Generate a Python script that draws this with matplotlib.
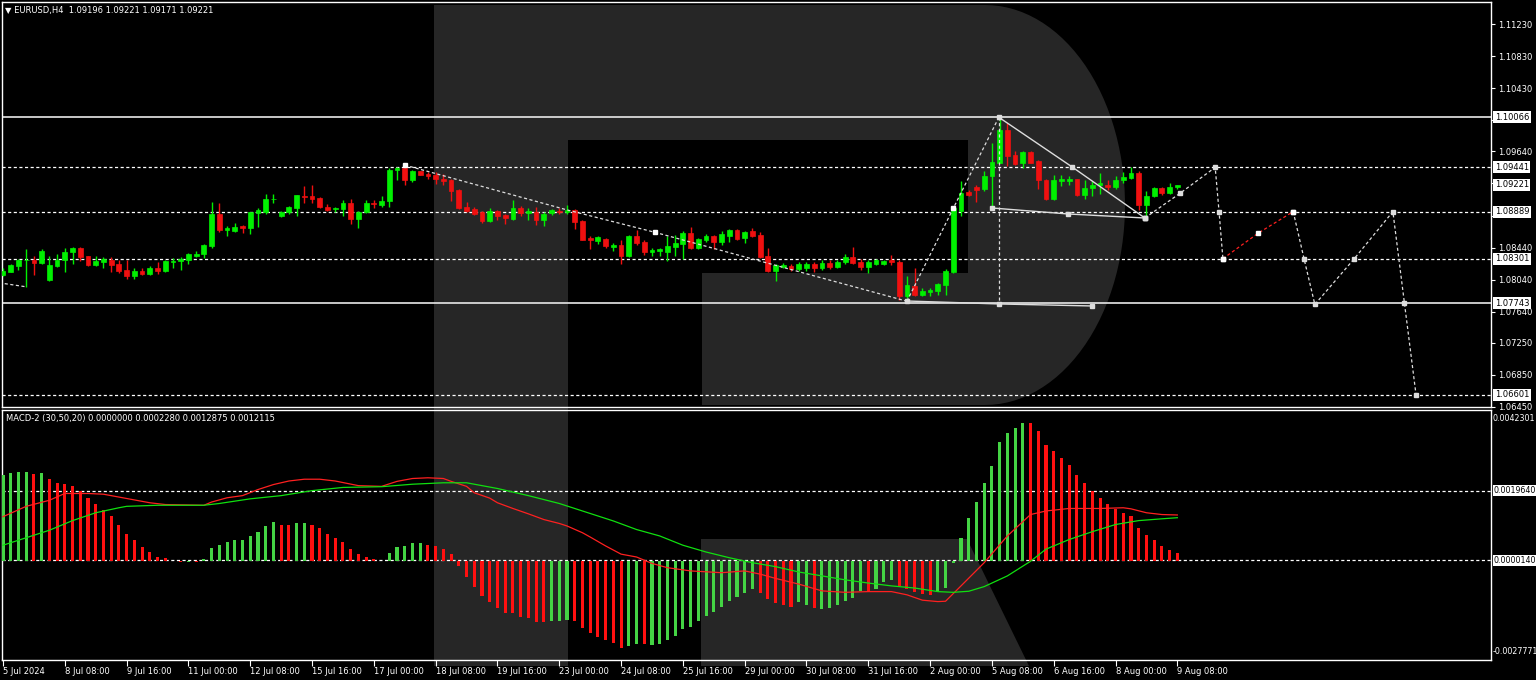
import matplotlib.pyplot as plt
from matplotlib.patches import Polygon, Rectangle
import numpy as np

# EURUSD H4 bars, 5 Jul 2024 00:00 .. 9 Aug 2024 08:00
opens = [1.0810, 1.0814, 1.0821, 1.0828, 1.0829, 1.0825, 1.0803, 1.0821, 1.0829, 1.0838,
         1.0844, 1.0833, 1.0822, 1.0826, 1.0829, 1.0824, 1.0816, 1.0809, 1.0815, 1.0811,
         1.0819, 1.0815, 1.0826, 1.0827, 1.0829, 1.0834, 1.0836, 1.0846, 1.0886, 1.0866,
         1.0865, 1.0871, 1.0869, 1.0887, 1.0889, 1.0904, 1.0883, 1.0888, 1.0893, 1.0908,
         1.0908, 1.0906, 1.0895, 1.0892, 1.0892, 1.0900, 1.0880, 1.0889, 1.0900, 1.0897,
         1.0902, 1.0941, 1.0943, 1.0928, 1.0939, 1.0936, 1.0934, 1.0930, 1.0928, 1.0916,
         1.0895, 1.0892, 1.0888, 1.0877, 1.0890, 1.0885, 1.0880, 1.0894, 1.0887, 1.0889,
         1.0878, 1.0887, 1.0890, 1.0889, 1.0891, 1.0877, 1.0856, 1.0852, 1.0855, 1.0845,
         1.0847, 1.0834, 1.0858, 1.0851, 1.0839, 1.0840, 1.0839, 1.0845, 1.0849, 1.0862,
         1.0844, 1.0853, 1.0858, 1.0851, 1.0859, 1.0866, 1.0856, 1.0865, 1.0860, 1.0833,
         1.0815, 1.0820, 1.0821, 1.0817, 1.0818, 1.0823, 1.0818, 1.0825, 1.0820, 1.0826,
         1.0832, 1.0826, 1.0820, 1.0824, 1.0824, 1.0828, 1.0826, 1.0783, 1.0796, 1.0785,
         1.0788, 1.0790, 1.0797, 1.0814, 1.0890, 1.0913, 1.0919, 1.0917, 1.0933, 1.0950,
         1.0991, 1.0960, 1.0949, 1.0963, 1.0952, 1.0928, 1.0904, 1.0927, 1.0927, 1.0929,
         1.0910, 1.0918, 1.0922, 1.0922, 1.0919, 1.0928, 1.0931, 1.0937, 1.0897, 1.0908,
         1.0918, 1.0912, 1.09196]
highs = [1.0818, 1.0824, 1.0830, 1.0842, 1.0834, 1.0842, 1.0833, 1.0836, 1.0844, 1.0845,
         1.0845, 1.0834, 1.0834, 1.0832, 1.0832, 1.0828, 1.0829, 1.0818, 1.0818, 1.0821,
         1.0826, 1.0828, 1.0831, 1.0832, 1.0837, 1.0840, 1.0848, 1.0901, 1.0899, 1.0871,
         1.0875, 1.0872, 1.0889, 1.0893, 1.0911, 1.0911, 1.0890, 1.0896, 1.0910, 1.0921,
         1.0922, 1.0907, 1.0898, 1.0895, 1.0903, 1.0905, 1.0890, 1.0903, 1.0903, 1.0908,
         1.0943, 1.0944, 1.0949, 1.0941, 1.0940, 1.0938, 1.0938, 1.0936, 1.0930, 1.0917,
         1.0901, 1.0895, 1.0890, 1.0894, 1.0891, 1.0886, 1.0903, 1.0896, 1.0893, 1.0895,
         1.0888, 1.0892, 1.0893, 1.0897, 1.0892, 1.0878, 1.0858, 1.0858, 1.0856, 1.0850,
         1.0853, 1.0860, 1.0866, 1.0854, 1.0843, 1.0844, 1.0858, 1.0860, 1.0865, 1.0870,
         1.0856, 1.0861, 1.0860, 1.0865, 1.0867, 1.0867, 1.0865, 1.0869, 1.0863, 1.0843,
         1.0824, 1.0825, 1.0824, 1.0826, 1.0826, 1.0826, 1.0828, 1.0829, 1.0829, 1.0836,
         1.0845, 1.0830, 1.0828, 1.0830, 1.0829, 1.0835, 1.0828, 1.0809, 1.0818, 1.0794,
         1.0793, 1.0800, 1.0817, 1.0895, 1.0927, 1.0916, 1.0922, 1.0940, 1.0974, 1.1007,
         1.0999, 1.0964, 1.0964, 1.0964, 1.0953, 1.0930, 1.0935, 1.0935, 1.0933, 1.0930,
         1.0928, 1.0927, 1.0937, 1.0928, 1.0933, 1.0938, 1.0944, 1.0940, 1.0915, 1.0919,
         1.0919, 1.0924, 1.09221]
lows = [1.0809, 1.0813, 1.0816, 1.0795, 1.0810, 1.0824, 1.0802, 1.0820, 1.0814, 1.0824,
        1.0827, 1.0821, 1.0821, 1.0819, 1.0814, 1.0812, 1.0805, 1.0805, 1.0810, 1.0810,
        1.0811, 1.0813, 1.0819, 1.0816, 1.0824, 1.0832, 1.0831, 1.0843, 1.0863, 1.0859,
        1.0863, 1.0862, 1.0861, 1.0870, 1.0886, 1.0899, 1.0882, 1.0886, 1.0883, 1.0900,
        1.0899, 1.0893, 1.0890, 1.0888, 1.0883, 1.0874, 1.0869, 1.0887, 1.0894, 1.0895,
        1.0895, 1.0928, 1.0922, 1.0926, 1.0935, 1.0930, 1.0923, 1.0922, 1.0902, 1.0892,
        1.0889, 1.0885, 1.0875, 1.0876, 1.0878, 1.0873, 1.0878, 1.0884, 1.0878, 1.0872,
        1.0871, 1.0885, 1.0886, 1.0886, 1.0867, 1.0853, 1.0842, 1.0849, 1.0844, 1.0840,
        1.0824, 1.0832, 1.0847, 1.0835, 1.0834, 1.0834, 1.0827, 1.0834, 1.0830, 1.0842,
        1.0842, 1.0851, 1.0842, 1.0847, 1.0851, 1.0854, 1.0850, 1.0857, 1.0831, 1.0814,
        1.0802, 1.0818, 1.0815, 1.0815, 1.0815, 1.0814, 1.0816, 1.0817, 1.0818, 1.0823,
        1.0823, 1.0816, 1.0812, 1.0822, 1.0822, 1.0822, 1.0779, 1.0781, 1.0783, 1.0783,
        1.0783, 1.0785, 1.0785, 1.0812, 1.0883, 1.0908, 1.0901, 1.0914, 1.0895, 1.0949,
        1.0946, 1.0947, 1.0943, 1.0949, 1.0917, 1.0903, 1.0903, 1.0921, 1.0922, 1.0908,
        1.0904, 1.0908, 1.0911, 1.0916, 1.0917, 1.0925, 1.0929, 1.0891, 1.0883, 1.0907,
        1.0910, 1.0911, 1.09171]
closes = [1.0815, 1.0822, 1.0828, 1.0829, 1.0825, 1.0840, 1.0822, 1.0829, 1.0839, 1.0844,
          1.0832, 1.0822, 1.0827, 1.0830, 1.0822, 1.0815, 1.0809, 1.0815, 1.0811, 1.0819,
          1.0815, 1.0827, 1.0827, 1.0830, 1.0836, 1.0836, 1.0847, 1.0886, 1.0866, 1.0868,
          1.0870, 1.0869, 1.0888, 1.0891, 1.0905, 1.0905, 1.0889, 1.0895, 1.0909, 1.0907,
          1.0905, 1.0895, 1.0891, 1.0893, 1.0900, 1.0880, 1.0889, 1.0899, 1.0898, 1.0902,
          1.0941, 1.0943, 1.0928, 1.0940, 1.0935, 1.0933, 1.0929, 1.0927, 1.0915, 1.0894,
          1.0890, 1.0886, 1.0877, 1.0890, 1.0884, 1.0881, 1.0894, 1.0887, 1.0890, 1.0878,
          1.0886, 1.0891, 1.0889, 1.0891, 1.0876, 1.0854, 1.0853, 1.0857, 1.0846, 1.0847,
          1.0834, 1.0858, 1.0850, 1.0838, 1.0841, 1.0842, 1.0846, 1.0850, 1.0862, 1.0844,
          1.0855, 1.0859, 1.0851, 1.0861, 1.0866, 1.0855, 1.0863, 1.0858, 1.0832, 1.0815,
          1.0822, 1.0822, 1.0817, 1.0824, 1.0823, 1.0818, 1.0825, 1.0820, 1.0826, 1.0832,
          1.0825, 1.0820, 1.0826, 1.0828, 1.0827, 1.0826, 1.0783, 1.0797, 1.0785, 1.0790,
          1.0791, 1.0799, 1.0815, 1.0893, 1.0912, 1.0910, 1.0916, 1.0933, 1.0951, 1.0991,
          1.0958, 1.0948, 1.0963, 1.0950, 1.0928, 1.0904, 1.0928, 1.0930, 1.0929, 1.0910,
          1.0918, 1.0922, 1.0924, 1.0920, 1.0928, 1.0932, 1.0937, 1.0897, 1.0908, 1.0918,
          1.0912, 1.0919, 1.09221]

# MACD-2 (30,50,20) histogram and its colour state (U = rising, D = falling)
macd_hist = [0.00240, 0.00246, 0.00248, 0.00248, 0.00244, 0.00246, 0.00230, 0.00219, 0.00216, 0.00210,
             0.00195, 0.00176, 0.00159, 0.00144, 0.00125, 0.00100, 0.00076, 0.00058, 0.00039, 0.00025,
             0.00012, 0.00007, 0.00001, -0.00002, -0.00002, -0.00002, 0.00006, 0.00035, 0.00044, 0.00052,
             0.00058, 0.00060, 0.00071, 0.00081, 0.00098, 0.00108, 0.00102, 0.00100, 0.00105, 0.00105,
             0.00102, 0.00092, 0.00076, 0.00063, 0.00054, 0.00033, 0.00019, 0.00011, 0.00006, 0.00001,
             0.00021, 0.00039, 0.00041, 0.00049, 0.00049, 0.00046, 0.00043, 0.00033, 0.00018, -0.00015,
             -0.00045, -0.00072, -0.00099, -0.00114, -0.00132, -0.00146, -0.00147, -0.00157, -0.00161, -0.00170,
             -0.00172, -0.00169, -0.00167, -0.00166, -0.00168, -0.00187,
             -0.00202, -0.00212, -0.00221, -0.00231, -0.00243, -0.00239, -0.00233, -0.00233, -0.00235, -0.00233,
             -0.00221, -0.00211, -0.00191, -0.00184, -0.00169, -0.00153, -0.00144, -0.00128, -0.00113, -0.00100,
             -0.00089, -0.00079, -0.00089, -0.00106, -0.00117, -0.00124, -0.00128, -0.00116, -0.00123, -0.00133,
             -0.00135, -0.00131, -0.00123, -0.00113, -0.00103, -0.00084, -0.00086, -0.00079, -0.00060, -0.00053,
             -0.00070, -0.00079, -0.00088, -0.00093, -0.00095, -0.00088, -0.00076, -0.00007, 0.00065, 0.00119,
             0.00166, 0.00217, 0.00267, 0.00332, 0.00358, 0.00372, 0.00386, 0.00386, 0.00365, 0.00326,
             0.00308, 0.00288, 0.00270, 0.00240, 0.00217, 0.00195, 0.00177, 0.00160, 0.00146, 0.00135,
             0.00127, 0.00093, 0.00072, 0.00058, 0.00042, 0.00030, 0.00022]
hist_dir = ("UUUUDU" "DDDDDDDDDDDDDDDDDD" "UD" "UUUUUUUUUU" "DDUUD" "DDDDDDDDD" "UUUUU"
            "DDDDDDDDDDDDDDDD" "UUU" "DD"
            "DDDDD" "UU" "D" "UUUUUUUUUUUUUU" "DDDDD" "UU" "D" "UUUUU" "U" "D" "UUU" "DDDDD"
            "UUU" "UUUUUUUUU" "DDDDDDDDDDDDDDDDDDDD")

red_x = [0, 3, 6, 8, 11, 13, 16, 19, 21, 26, 27, 29, 31, 33, 35, 37, 39, 41, 43, 46, 49, 51, 53, 55, 57,
         58, 60, 61, 63, 64, 66, 68, 70, 72, 73, 75, 76, 78, 80, 82, 84, 86, 89, 93, 96, 98, 100, 103, 106,
         109, 112, 115, 117, 119, 121, 122, 124, 127, 130, 133, 135, 138, 142, 145, 146, 148, 150, 152]
red_y = [0.00124, 0.00153, 0.00170, 0.00189, 0.00189, 0.00187, 0.00175, 0.00163, 0.00158, 0.00156, 0.00165,
         0.00177, 0.00183, 0.00200, 0.00214, 0.00224, 0.00229, 0.00229, 0.00224, 0.00211, 0.00209, 0.00223,
         0.00231, 0.00233, 0.00231, 0.00223, 0.00209, 0.00191, 0.00176, 0.00163, 0.00147, 0.00132, 0.00116,
         0.00105, 0.00098, 0.00079, 0.00067, 0.00042, 0.00019, 0.00011, -0.00007, -0.00019, -0.00028,
         -0.00033, -0.00028, -0.00037, -0.00049, -0.00065, -0.00084, -0.00088, -0.00086, -0.00086, -0.00095,
         -0.00110, -0.00114, -0.00113, -0.00070, -0.00005, 0.00070, 0.00130, 0.00140, 0.00147, 0.00147,
         0.00149, 0.00146, 0.00135, 0.00130, 0.0012875]
green_x = [0, 3, 6, 9, 12, 15, 16, 20, 26, 28, 32, 36, 40, 44, 49, 53, 57, 60, 64, 68, 72, 76, 79, 82, 85,
           88, 91, 94, 97, 100, 103, 106, 109, 112, 115, 118, 121, 123, 125, 127, 130, 133, 135, 138, 141,
           144, 147, 150, 152]
green_y = [0.00044, 0.00065, 0.00086, 0.00113, 0.00135, 0.00149, 0.00153, 0.00156, 0.00156, 0.00161, 0.00174,
           0.00183, 0.00197, 0.00206, 0.00208, 0.00215, 0.00219, 0.00219, 0.00203, 0.00183, 0.00161, 0.00133,
           0.00112, 0.00088, 0.00070, 0.00044, 0.00025, 0.00009, -0.00005, -0.00016, -0.00031, -0.00042,
           -0.00053, -0.00062, -0.00070, -0.00076, -0.00086, -0.00088, -0.00085, -0.00072, -0.00042, -0.00001,
           0.00033, 0.00060, 0.00082, 0.00102, 0.00113, 0.00118, 0.0012115]

# horizontal levels
solid_levels = [1.10066, 1.07743]
dashed_levels = [1.09441, 1.08889, 1.08301, 1.06601]
last_price = 1.09221
price_ticks = [1.11230, 1.10830, 1.10430, 1.10030, 1.09640, 1.09240, 1.08840, 1.08440, 1.08040,
               1.07640, 1.07250, 1.06850, 1.06450]
hidden_ticks = [1.10030, 1.09240, 1.08840]   # covered by the level boxes
macd_min, macd_max = -0.0027771, 0.0042301
macd_levels = [0.0019640, 0.0000140]

# wave markup (bar index, price)
trend_x, trend_y = [52, 73, 84.4, 117], [1.0947, 1.0891, 1.0863, 1.0777]
stub_x, stub_y = [-0.5, 3.0], [1.0800, 1.0795]
wave_x, wave_y = [117, 123, 128.9], [1.0777, 1.0893, 1.10066]
drop_x, drop_y = [128.9, 128.9], [1.10066, 1.07736]
tri_hi_x, tri_hi_y = [128.9, 138.4, 147.8], [1.10066, 1.09445, 1.08809]
tri_mid_x, tri_mid_y = [128.0, 137.9, 147.8], [1.08934, 1.08859, 1.08809]
base_x, base_y = [117, 128.9, 141], [1.07773, 1.07736, 1.07711]
fc1_x, fc1_y = [147.8, 152.4, 156.9, 157.4, 157.9], [1.08809, 1.09121, 1.09441, 1.08889, 1.08301]
fc2_x, fc2_y = [157.9, 162.5, 167.0], [1.08301, 1.08622, 1.08889]
fc3_x = [167.0, 168.4, 169.8, 174.9, 179.9, 181.4, 182.9]
fc3_y = [1.08889, 1.08301, 1.0773, 1.08301, 1.08889, 1.07743, 1.06601]

tick_labels = ['5 Jul 2024', '8 Jul 08:00', '9 Jul 16:00', '11 Jul 00:00', '12 Jul 08:00',
               '15 Jul 16:00', '17 Jul 00:00', '18 Jul 08:00', '19 Jul 16:00', '23 Jul 00:00',
               '24 Jul 08:00', '25 Jul 16:00', '29 Jul 00:00', '30 Jul 08:00', '31 Jul 16:00',
               '2 Aug 00:00', '5 Aug 08:00', '6 Aug 16:00', '8 Aug 00:00', '9 Aug 08:00']

W, H = 1536, 680
plt.rcParams['font.family'] = ['DejaVu Sans']
fig = plt.figure(figsize=(W / 100, H / 100), dpi=100, facecolor='black')


def rect(x0, y0, x1, y1):
    return [x0 / W, 1 - y1 / H, (x1 - x0) / W, (y1 - y0) / H]


def px(x, y):
    return (x / W, 1 - y / H)


# watermark "R" behind the chart
wm = '#262626'
t = np.linspace(np.pi / 2, -np.pi / 2, 60)
bowl = [px(434, 5)] + [px(985 + 140 * np.cos(a), 205 - 200 * np.sin(a)) for a in t] + [px(434, 405)]
fig.patches.append(Polygon(bowl, closed=True, transform=fig.transFigure, fc=wm, ec='none', zorder=-5))
fig.patches.append(Rectangle(px(568, 273), 400 / W, 133 / H, transform=fig.transFigure,
                             fc='black', ec='none', zorder=-4))
fig.patches.append(Rectangle(px(568, 410), 134 / W, 137 / H, transform=fig.transFigure,
                             fc='black', ec='none', zorder=-4))
fig.patches.append(Rectangle(px(434, 666), 134 / W, 661 / H, transform=fig.transFigure,
                             fc=wm, ec='none', zorder=-3))
leg = [px(701, 539), px(967, 539), px(1029, 666), px(701, 666)]
fig.patches.append(Polygon(leg, closed=True, transform=fig.transFigure, fc=wm, ec='none', zorder=-3))

ax = fig.add_axes(rect(2, 2, 1491, 407))
ax2 = fig.add_axes(rect(2, 410, 1491, 660), sharex=ax)
for a in (ax, ax2):
    a.set_facecolor('none')
    for s in a.spines.values():
        s.set_color('white')
        s.set_linewidth(1)

# candles
o, h, l, c = map(np.array, (opens, highs, lows, closes))
idx = np.arange(len(o))
col = np.where(c >= o, '#00f000', '#f01010')
ax.vlines(idx, l, h, colors=col, lw=1, zorder=3)
ax.bar(idx, np.maximum(np.abs(c - o), 0.00003), bottom=np.minimum(o, c), width=0.62,
       color=col, edgecolor=col, lw=0.5, zorder=3)

# levels
for v in solid_levels:
    ax.axhline(v, color='#e8e8e8', lw=1.2, zorder=2)
for v in dashed_levels:
    ax.axhline(v, color='white', lw=0.9, ls=(0, (2.5, 2)), zorder=2)

# wave markup
dash = dict(color='#dddddd', lw=0.9, ls=(0, (2.5, 2)), zorder=4)
solid = dict(color='#dddddd', lw=1.0, zorder=4)
ax.plot(trend_x, trend_y, **dash)
ax.plot(stub_x, stub_y, **dash)
ax.plot(wave_x, wave_y, **dash)
ax.plot(drop_x, drop_y, **dash)
ax.plot(tri_hi_x, tri_hi_y, marker='s', ms=3, **solid)
ax.plot(tri_mid_x, tri_mid_y, marker='s', ms=3, **solid)
ax.plot(base_x, base_y, marker='s', ms=3, **solid)
ax.plot(fc1_x, fc1_y, marker='s', ms=2.5, **dash)
ax.plot(fc3_x, fc3_y, marker='s', ms=2.5, **dash)
ax.plot(fc2_x, fc2_y, color='#ff2020', lw=0.9, ls=(0, (2.5, 2)), marker='s', ms=2.5,
        mfc='white', mec='white', zorder=4)
ax.plot([trend_x[0], trend_x[2], wave_x[1]], [trend_y[0], trend_y[2], wave_y[1]],
        ls='none', marker='s', ms=2.5, color='white', zorder=4)

ax.set_xlim(-0.13, 192.6)
ax.set_ylim(1.06450, 1.11505)
ax.yaxis.tick_right()
ax.set_yticks(price_ticks)
ax.set_yticklabels(['' if v in hidden_ticks else f'{v:.5f}' for v in price_ticks])
ax.tick_params(axis='y', colors='white', labelsize=6, length=3, width=0.8, pad=2)
ax.tick_params(axis='x', bottom=False, labelbottom=False)

boxed = dict(boxstyle='square,pad=0.18', fc='white', ec='none')
for v in solid_levels + dashed_levels + [last_price]:
    ax.text(1.0025, v, f'{v:.5f}', transform=ax.get_yaxis_transform(), ha='left', va='center',
            fontsize=6, color='black', bbox=boxed, clip_on=False, zorder=6)

# MACD pane
hcol = ['#44d444' if d == 'U' else '#ff1010' for d in hist_dir]
ax2.bar(np.arange(len(macd_hist)), macd_hist, width=0.4, color=hcol, lw=0, zorder=3)
ax2.plot(red_x, red_y, color='#ff2020', lw=0.9, zorder=4)
ax2.plot(green_x, green_y, color='#10e010', lw=0.9, zorder=4)
for v in macd_levels:
    ax2.axhline(v, color='white', lw=0.9, ls=(0, (2.5, 2)), zorder=2)
ax2.set_ylim(macd_min, macd_max)
ax2.set_yticks([])
ax2.text(1.0012, 0.985, f'{macd_max:.7f}', transform=ax2.transAxes, ha='left', va='top',
         fontsize=5.7, color='white', clip_on=False)
ax2.text(1.0012, 0.015, f'{macd_min:.7f}', transform=ax2.transAxes, ha='left', va='bottom',
         fontsize=5.7, color='white', clip_on=False)
for v in macd_levels:
    ax2.text(1.0018, v, f'{v:.7f}', transform=ax2.get_yaxis_transform(), ha='left', va='center',
             fontsize=5.7, color='black', bbox=dict(boxstyle='square,pad=0.12', fc='white', ec='none'),
             clip_on=False, zorder=6)

ax2.set_xticks(np.arange(len(tick_labels)) * 8)
ax2.set_xticklabels(tick_labels, ha='left')
ax2.tick_params(axis='x', colors='white', labelsize=6, length=4, width=0.8, pad=1)

fig.text(5 / W, 1 - 10 / H, '\u25bc EURUSD,H4  1.09196 1.09221 1.09171 1.09221', color='white',
         fontsize=6, va='center')
ax2.text(0.003, 0.985, 'MACD-2 (30,50,20) 0.0000000 0.0002280 0.0012875 0.0012115',
         transform=ax2.transAxes, color='white', fontsize=6, va='top')

fig.savefig('out.png', dpi=100, facecolor='black')
